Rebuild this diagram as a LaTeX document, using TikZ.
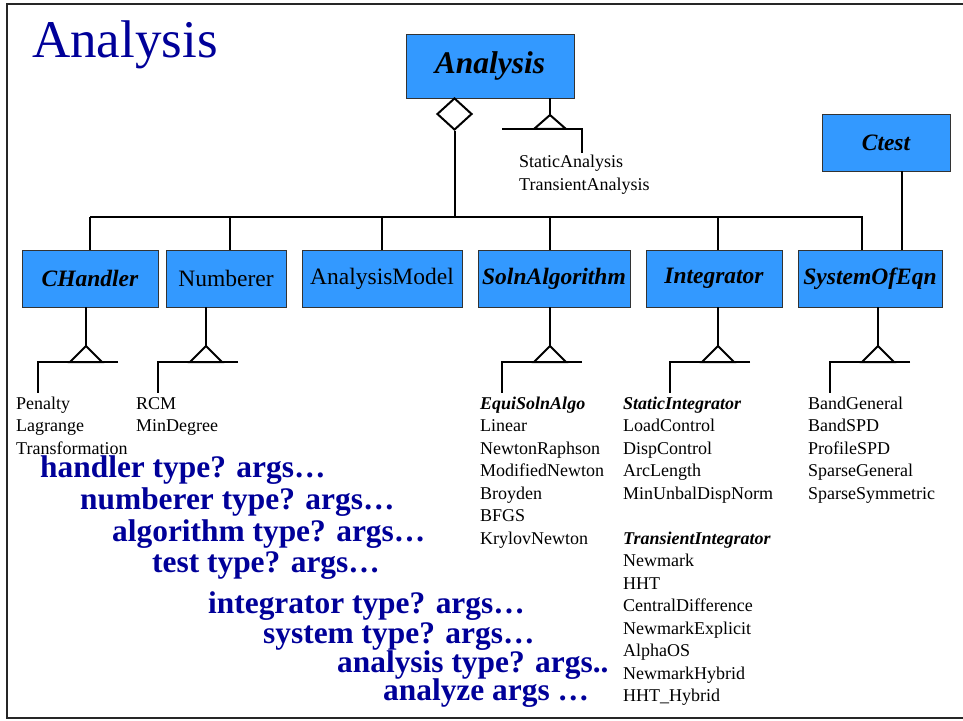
\documentclass[tikz,border=0pt]{standalone}
\usepackage{fontspec}
\setmainfont{Liberation Serif}
\usepackage{tikz}
\usetikzlibrary{shapes.geometric}
\definecolor{boxblue}{RGB}{51,153,255}
\definecolor{cmdblue}{RGB}{0,0,153}

\begin{document}
\begin{tikzpicture}[x=1bp, y=-1bp,
  classbox/.style={draw=black!80, line width=0.9bp, fill=boxblue, minimum height=57bp, inner sep=0pt,
    font=\fontsize{23.5bp}{28bp}\selectfont},
  abstract/.style={font=\fontsize{23.5bp}{28bp}\selectfont\bfseries\itshape},
  conn/.style={line width=2bp, black},
  item/.style={anchor=base west, inner sep=0pt, font=\fontsize{18bp}{22bp}\selectfont},
  cmd/.style={anchor=base west, inner sep=0pt, text=cmdblue, font=\fontsize{31.4bp}{36bp}\selectfont\bfseries},
  subs/.pic={
    \draw[conn] (32,16) -- (-48,16) -- (-48,47);
    \draw[conn, fill=white] (0,0) -- (-16,16) -- (16,16) -- cycle;
  }]
  \useasboundingbox (0,0) rectangle (963,721);
  \draw[line width=2.2bp, black!85] (963,3.8) -- (7,3.8) -- (7,718) -- (963,718);

  \node[anchor=base west, inner sep=0pt, text=cmdblue, font=\fontsize{53bp}{60bp}\selectfont] (title) at (32,58) {Analysis};

  \node[classbox, minimum width=168bp, minimum height=64bp, font=\fontsize{31.5bp}{36bp}\selectfont\bfseries\itshape] (analysis) at (490,66) {Analysis};
  \node[classbox, abstract, minimum width=128bp] (ctest) at (886,142.5) {Ctest};
  \node[classbox, abstract, minimum width=136bp] (chandler) at (90,278.5) {CHandler};
  \node[classbox, minimum width=120bp] (numberer) at (226,278.5) {Numberer};
  \node[classbox, minimum width=160bp] (model) at (382,278.5) {AnalysisModel};
  \node[classbox, abstract, minimum width=152bp] (soln) at (554,278.5) {SolnAlgorithm};
  \node[classbox, abstract, minimum width=136bp] (integ) at (714,278.5) {Integrator};
  \node[classbox, abstract, minimum width=144bp] (sys) at (870,278.5) {SystemOfEqn};

  \node[diamond, conn, draw, fill=white, minimum width=35bp, minimum height=32bp, inner sep=0pt] (agg) at (454.5,114) {};

  \coordinate (busL) at (90,217);
  \coordinate (busR) at (862,217);
  \draw[conn] (agg.south) -- (agg.south |- busL);
  \draw[conn] (busL) -- (busR) -- (busR |- sys.north);
  \foreach \b/\x in {chandler/90, numberer/230, model/382, soln/550, integ/718} {
    \coordinate (d\b) at (\x,217);
    \draw[conn] (d\b) -- (d\b |- \b.north);
  }

  \coordinate (tlink) at (902,0);
  \draw[conn] (tlink |- ctest.south) -- (tlink |- sys.north);

  \coordinate (topapex) at (550,115);
  \coordinate (kindsL) at (502,129);
  \coordinate (kindsR) at (582,129);
  \coordinate (kindsEnd) at (582,153);
  \draw[conn] (topapex |- analysis.south) -- (topapex);
  \draw[conn] (kindsL) -- (kindsR) -- (kindsEnd);
  \draw[conn, fill=white] (topapex) -- ++(-16,14) -- ++(32,0) -- cycle;
  \node[item] (kind1) at (519,168) {StaticAnalysis};
  \node[item] (kind2) at (519,191) {TransientAnalysis};

  \foreach \b/\x in {chandler/86, numberer/206, soln/550, integ/718, sys/878} {
    \coordinate (a\b) at (\x,346);
    \draw[conn] (a\b |- \b.south) -- (a\b) pic {subs};
  }

  \foreach \t [count=\i from 0] in {Penalty, Lagrange, Transformation}
    \node[item] (hnd\i) at (16,409+22.5*\i) {\t};
  \foreach \t [count=\i from 0] in {RCM, MinDegree}
    \node[item] (num\i) at (136,409+22.5*\i) {\t};
  \foreach \t [count=\i from 0] in {{\bfseries\itshape EquiSolnAlgo}, Linear, NewtonRaphson, ModifiedNewton, Broyden, BFGS, KrylovNewton}
    \node[item] (alg\i) at (480,409+22.5*\i) {\t};
  \foreach \t [count=\i from 0] in {{\bfseries\itshape StaticIntegrator}, LoadControl, DispControl, ArcLength, MinUnbalDispNorm}
    \node[item] (sint\i) at (623,409+22.5*\i) {\t};
  \foreach \t [count=\i from 6] in {{\bfseries\itshape TransientIntegrator}, Newmark, HHT, CentralDifference, NewmarkExplicit, AlphaOS, NewmarkHybrid, HHT\_Hybrid}
    \node[item] (tint\i) at (623,409+22.5*\i) {\t};
  \foreach \t [count=\i from 0] in {BandGeneral, BandSPD, ProfileSPD, SparseGeneral, SparseSymmetric}
    \node[item] (soe\i) at (808,409+22.5*\i) {\t};

  \node[cmd] (c1) at (40,477) {handler type? args…};
  \node[cmd] (c2) at (80,509) {numberer type? args…};
  \node[cmd] (c3) at (112,541) {algorithm type? args…};
  \node[cmd] (c4) at (152,572) {test type? args…};
  \node[cmd] (c5) at (208,613) {integrator type? args…};
  \node[cmd] (c6) at (263,643) {system type? args…};
  \node[cmd] (c7) at (337,672) {analysis type? args..};
  \node[cmd] (c8) at (383,700) {analyze args …};
\end{tikzpicture}
\end{document}
